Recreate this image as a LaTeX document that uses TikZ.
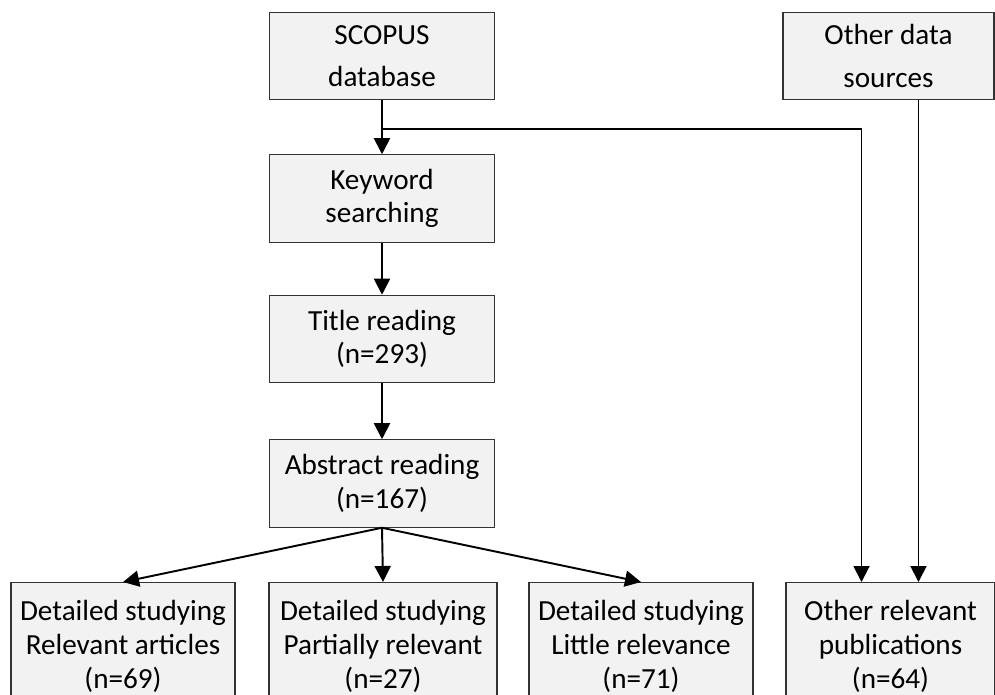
\documentclass[tikz,border=0pt]{standalone}
\usepackage{fontspec}
\setmainfont{Carlito}
\usetikzlibrary{arrows.meta}

\begin{document}
\begin{tikzpicture}[x=0.02cm,y=-0.02cm]
    % Styles
    \tikzstyle{fleche}=[-{Triangle[length=0.32cm,width=0.32cm]},line width=1.1pt]
    \tikzstyle{boite}=[fill=black!5,draw=black!80,line width=0.6pt,align=center,inner sep=0pt,minimum height=1.75cm,minimum width=4.5cm,font=\fontsize{16.6}{19.2}\selectfont]
    \tikzstyle{boiteH}=[boite,font=\fontsize{16.6}{24}\selectfont]
    \tikzstyle{feuille}=[boite,anchor=north,inner ysep=0.36cm,minimum height=0cm]
    % Zone visible
    \useasboundingbox (0,0) rectangle (995,694);
    \clip (0,0) rectangle (995,694);
    % Noeuds
    \node[boiteH] (scopus) at (382,56) {SCOPUS\\database};
    \node[boiteH,minimum width=4.22cm] (autres) at (888.5,56) {Other data\\sources};
    \node[boite] (mots) at (382,198.5) {Keyword\\searching};
    \node[boite] (titre) at (382,339) {Title reading\\(n=293)};
    \node[boite] (resume) at (382,483.5) {Abstract reading\\(n=167)};
    \node[feuille,minimum width=4.48cm] (pertinents) at (123,582) {Detailed studying\\Relevant articles\\(n=69)};
    \node[feuille,minimum width=4.56cm] (partiels) at (383,582) {Detailed studying\\Partially relevant\\(n=27)};
    \node[feuille,minimum width=4.48cm] (faibles) at (641,582) {Detailed studying\\Little relevance\\(n=71)};
    \node[feuille,minimum width=4.18cm] (publis) at (890.5,582) {Other relevant\\publications\\(n=64)};
    \coordinate (J) at (382,129);
    % Arcs
    \draw[fleche] (scopus) -- (mots);
    \draw[fleche] (mots) -- (titre);
    \draw[fleche] (titre) -- (resume);
    \draw[fleche] (resume.south) -- (pertinents.north);
    \draw[fleche] (resume.south) -- (partiels.north);
    \draw[fleche] (resume.south) -- (faibles.north);
    \draw[fleche] (J) -| ([xshift=-0.58cm]publis.north);
    \draw[fleche] ([xshift=0.6cm]autres.south) -- ([xshift=0.6cm]autres.south |- publis.north);
\end{tikzpicture}
\end{document}
